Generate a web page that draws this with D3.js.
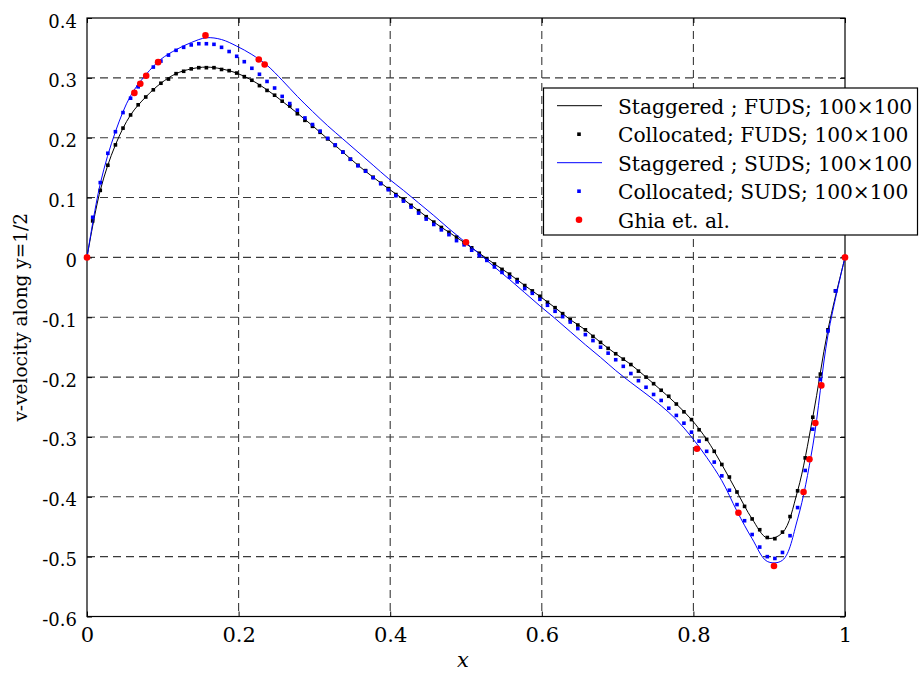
<!DOCTYPE html>
<html>
<head>
<meta charset="utf-8">
<script src="https://cdn.jsdelivr.net/npm/d3@7"></script>
<style>
  html, body { margin: 0; padding: 0; background: #fff; }
  svg { display: block; }
</style>
</head>
<body>
<svg id="chart" width="921" height="674"></svg>
<script>
// ---------------- DATA ----------------
const xTickValues = [0, 0.2, 0.4, 0.6, 0.8, 1];
const xTickLabels = ["0", "0.2", "0.4", "0.6", "0.8", "1"];
const yTickValues = [0.4, 0.3, 0.2, 0.1, 0, -0.1, -0.2, -0.3, -0.4, -0.5, -0.6];
const yTickLabels = ["0.4", "0.3", "0.2", "0.1", "0", "-0.1", "-0.2", "-0.3", "-0.4", "-0.5", "-0.6"];

const seriesNames = [
  "Staggered ; FUDS; 100\u00d7100",
  "Collocated; FUDS; 100\u00d7100",
  "Staggered ; SUDS; 100\u00d7100",
  "Collocated; SUDS; 100\u00d7100",
  "Ghia et. al."
];

// staggered solutions (solid lines), sampled along x
const xStag = [0].concat(d3.range(49).map(k => +(0.0175 + 0.02 * k).toFixed(4))).concat([1]);
const stagFUDS = [0,
  0.112, 0.188, 0.238, 0.268, 0.291, 0.307, 0.315, 0.318, 0.315, 0.308,
  0.296, 0.280, 0.261, 0.241, 0.220, 0.198, 0.176, 0.154, 0.134, 0.115,
  0.097, 0.078, 0.059, 0.042, 0.025, 0.007, -0.011, -0.028, -0.047, -0.065,
  -0.084, -0.104, -0.121, -0.142, -0.161, -0.179, -0.200, -0.222, -0.245, -0.271,
  -0.304, -0.346, -0.392, -0.437, -0.469, -0.460, -0.390, -0.267, -0.121,
  0];
const stagSUDS = [0,
  0.123, 0.210, 0.270, 0.305, 0.331, 0.347, 0.359, 0.367, 0.364, 0.353,
  0.339, 0.321, 0.296, 0.269, 0.244, 0.220, 0.198, 0.176, 0.154, 0.132,
  0.112, 0.091, 0.070, 0.048, 0.027, 0.006, -0.016, -0.037, -0.059, -0.081,
  -0.102, -0.124, -0.146, -0.167, -0.189, -0.209, -0.228, -0.248, -0.271, -0.300,
  -0.334, -0.373, -0.424, -0.470, -0.508, -0.506, -0.437, -0.315, -0.130,
  0];

// collocated solutions (square markers), one per grid node
const xColl = d3.range(1, 100).map(i => +(i / 100 - 0.0025).toFixed(4));
const collFUDS = [
  0.061, 0.112, 0.154, 0.188, 0.216, 0.238, 0.255, 0.268, 0.280, 0.291,
  0.298, 0.307, 0.311, 0.315, 0.317, 0.317, 0.317, 0.314, 0.312, 0.308,
  0.302, 0.296, 0.287, 0.279, 0.271, 0.261, 0.253, 0.240, 0.229, 0.219,
  0.209, 0.198, 0.187, 0.176, 0.164, 0.154, 0.145, 0.134, 0.124, 0.115,
  0.105, 0.097, 0.087, 0.078, 0.068, 0.059, 0.050, 0.042, 0.034, 0.025,
  0.016, 0.007, -0.002, -0.011, -0.020, -0.028, -0.037, -0.047, -0.056, -0.065,
  -0.075, -0.084, -0.094, -0.104, -0.113, -0.121, -0.132, -0.142, -0.152, -0.161,
  -0.170, -0.179, -0.190, -0.200, -0.211, -0.222, -0.232, -0.245, -0.258, -0.271,
  -0.288, -0.304, -0.324, -0.346, -0.367, -0.392, -0.416, -0.437, -0.455, -0.468,
  -0.470, -0.459, -0.433, -0.390, -0.335, -0.267, -0.195, -0.121, -0.056];
const collSUDS = [
  0.067, 0.125, 0.174, 0.210, 0.242, 0.266, 0.285, 0.303, 0.318, 0.328,
  0.338, 0.346, 0.351, 0.355, 0.357, 0.357, 0.356, 0.351, 0.344, 0.336,
  0.327, 0.316, 0.306, 0.294, 0.283, 0.269, 0.257, 0.246, 0.233, 0.222,
  0.211, 0.199, 0.188, 0.176, 0.164, 0.153, 0.144, 0.133, 0.123, 0.113,
  0.103, 0.094, 0.084, 0.074, 0.064, 0.055, 0.046, 0.038, 0.028, 0.021,
  0.012, 0.003, -0.005, -0.016, -0.025, -0.033, -0.041, -0.052, -0.060, -0.070,
  -0.080, -0.090, -0.099, -0.108, -0.119, -0.129, -0.139, -0.150, -0.160, -0.171,
  -0.182, -0.194, -0.206, -0.217, -0.229, -0.239, -0.252, -0.264, -0.277, -0.292,
  -0.307, -0.324, -0.342, -0.365, -0.389, -0.413, -0.440, -0.463, -0.484, -0.500,
  -0.503, -0.493, -0.465, -0.418, -0.356, -0.287, -0.204, -0.123, -0.056];

// Ghia et al. (1982) benchmark
const xGhia = [0, 0.0625, 0.0703, 0.0781, 0.0938, 0.1563, 0.2266, 0.2344, 0.5,
  0.8047, 0.8594, 0.9063, 0.9453, 0.9531, 0.9609, 0.9688, 1];
const vGhia = [0, 0.27485, 0.29012, 0.30353, 0.32627, 0.37095, 0.33075, 0.32235, 0.02526,
  -0.31966, -0.42665, -0.51550, -0.39188, -0.33714, -0.27669, -0.21388, 0];

// ---------------- CHART ----------------
const W = 921, H = 674;
const L = 87, R = 845, T = 18, B = 616.5;
const svg = d3.select("#chart");
svg.append("rect").attr("width", W).attr("height", H).attr("fill", "#fff");

const x = d3.scaleLinear().domain([0, 1]).range([L, R]);
const y = d3.scaleLinear().domain([-0.6, 0.4]).range([B, T]);

const BLUE = "#0000ff", RED = "#ff0000";
const serif = "DejaVu Serif";

// grid
const grid = svg.append("g").attr("stroke", "#3a3a3a").attr("stroke-width", 1.1)
  .attr("stroke-dasharray", "8,5").attr("fill", "none");
xTickValues.filter(v => v > 0 && v < 1).forEach(v => {
  grid.append("line").attr("x1", x(v)).attr("x2", x(v)).attr("y1", T).attr("y2", B);
});
yTickValues.filter(v => v > -0.6 && v < 0.4).forEach(v => {
  grid.append("line").attr("x1", L).attr("x2", R).attr("y1", y(v)).attr("y2", y(v));
});

// axes (ticks point inward)
const axL = svg.append("g").attr("transform", `translate(${L},0)`)
  .call(d3.axisLeft(y).tickValues(yTickValues)
    .tickFormat((d, i) => yTickLabels[i]).tickSizeInner(-5).tickSizeOuter(0).tickPadding(10));
axL.select(".domain").remove();
axL.selectAll("text").attr("font-family", serif).attr("font-size", 18).attr("dy", "0.5em").attr("fill", "#000");

const axB = svg.append("g").attr("transform", `translate(0,${B})`)
  .call(d3.axisBottom(x).tickValues(xTickValues)
    .tickFormat((d, i) => xTickLabels[i]).tickSizeInner(-5).tickSizeOuter(0).tickPadding(11));
axB.select(".domain").remove();
axB.selectAll("text").attr("font-family", serif).attr("font-size", 21).attr("fill", "#000");

const axR = svg.append("g").attr("transform", `translate(${R},0)`)
  .call(d3.axisRight(y).tickValues(yTickValues).tickFormat("").tickSizeInner(-5).tickSizeOuter(0));
axR.select(".domain").remove();
const axT = svg.append("g").attr("transform", `translate(0,${T})`)
  .call(d3.axisTop(x).tickValues(xTickValues).tickFormat("").tickSizeInner(-5).tickSizeOuter(0));
axT.select(".domain").remove();

// frame
svg.append("rect").attr("x", L).attr("y", T).attr("width", R - L).attr("height", B - T)
  .attr("fill", "none").attr("stroke", "#000").attr("stroke-width", 1.2);

// curves
const line = d3.line().curve(d3.curveCatmullRom.alpha(0.5));
svg.append("defs").append("clipPath").attr("id", "plot")
  .append("rect").attr("x", L).attr("y", T).attr("width", R - L).attr("height", B - T);
const plot = svg.append("g").attr("clip-path", "url(#plot)");

plot.append("path")
  .attr("d", line(xStag.map((v, i) => [x(v), y(stagFUDS[i])])))
  .attr("fill", "none").attr("stroke", "#000").attr("stroke-width", 1);

const sq = 3.6;
plot.append("g").selectAll("rect").data(xColl).join("rect")
  .attr("x", (d) => x(d) - sq / 2).attr("y", (d, i) => y(collFUDS[i]) - sq / 2)
  .attr("width", sq).attr("height", sq).attr("fill", "#000");

plot.append("path")
  .attr("d", line(xStag.map((v, i) => [x(v), y(stagSUDS[i])])))
  .attr("fill", "none").attr("stroke", BLUE).attr("stroke-width", 1);

plot.append("g").selectAll("rect").data(xColl).join("rect")
  .attr("x", (d) => x(d) - sq / 2).attr("y", (d, i) => y(collSUDS[i]) - sq / 2)
  .attr("width", sq).attr("height", sq).attr("fill", BLUE);

svg.append("g").selectAll("circle").data(xGhia).join("circle")
  .attr("cx", d => x(d)).attr("cy", (d, i) => y(vGhia[i])).attr("r", 3.3).attr("fill", RED);

// axis titles
svg.append("text").attr("transform", `translate(20,${(T + B) / 2}) rotate(-90)`)
  .attr("text-anchor", "middle").attr("dominant-baseline", "central")
  .attr("font-family", serif).attr("font-size", 18.5).text("v-velocity along y=1/2");
svg.append("text").attr("x", (L + R) / 2 - 3).attr("y", 667).attr("text-anchor", "middle")
  .attr("font-family", serif).attr("font-style", "italic").attr("font-size", 21).text("x");

// legend
const lg = svg.append("g");
lg.append("rect").attr("x", 543.5).attr("y", 88).attr("width", 374).attr("height", 147)
  .attr("fill", "#fff").attr("stroke", "#000").attr("stroke-width", 1.2);
const rowY = k => 105.7 + 28.5 * k;
seriesNames.forEach((name, k) => {
  const cy = rowY(k);
  if (k === 0 || k === 2) {
    lg.append("line").attr("x1", 557).attr("x2", 602).attr("y1", cy).attr("y2", cy)
      .attr("stroke", k === 0 ? "#000" : BLUE).attr("stroke-width", 1);
  } else if (k === 1 || k === 3) {
    lg.append("rect").attr("x", 579 - sq / 2).attr("y", cy - sq / 2).attr("width", sq).attr("height", sq)
      .attr("fill", k === 1 ? "#000" : BLUE);
  } else {
    lg.append("circle").attr("cx", 579).attr("cy", cy).attr("r", 3.3).attr("fill", RED);
  }
  lg.append("text").attr("x", 618).attr("y", cy + 8)
    .attr("font-family", serif).attr("font-size", 20.2).text(name);
});
</script>
</body>
</html>
